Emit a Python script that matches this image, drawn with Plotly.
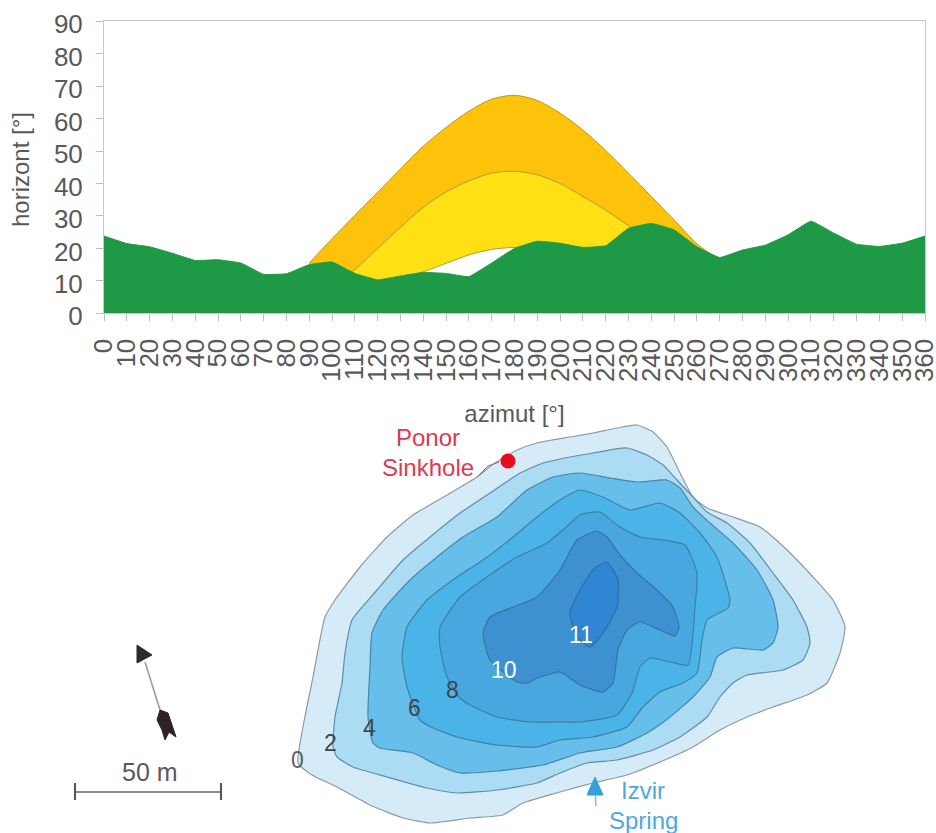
import plotly.graph_objects as go

FONT = "Liberation Sans"
TEXT = "#58595b"

azimuth = list(range(0, 370, 10))
tick_labels = [str(a) for a in azimuth]
horizon = [23.8, 21.5, 20.5, 18.5, 16.3, 16.5, 15.5, 12.0, 12.2, 15.0, 15.8, 12.3, 10.3,
           11.5, 12.6, 12.3, 11.3, 15.5, 20.0, 22.2, 21.6, 20.3, 20.8, 26.2, 27.7, 25.7,
           20.5, 17.2, 19.5, 21.0, 24.2, 28.4, 24.7, 21.3, 20.6, 21.6, 23.8]

summer_az = [90, 100, 110, 120, 130, 140, 150, 160, 170, 180, 190, 200, 210, 220, 230, 240, 250, 260, 267]
summer_alt = [15.5, 23.0, 30.2, 37.3, 44.5, 51.5, 57.3, 62.3, 66.0, 67.2, 65.6, 61.7, 56.5, 50.2, 43.2, 36.0, 28.8, 21.4, 17.5]
equinox_az = [90, 100, 110, 120, 130, 140, 150, 160, 170, 180, 190, 200, 210, 220, 230, 240, 250, 260, 267]
equinox_alt = [4.0, 8.5, 13.5, 20.0, 26.5, 32.7, 37.4, 40.8, 43.2, 43.8, 42.7, 40.0, 36.0, 31.8, 27.0, 22.0, 17.0, 12.0, 8.0]
winter_az = [100, 110, 120, 130, 135, 140, 150, 160, 170, 180, 190, 200, 210, 220, 230, 240, 250, 260, 267]
winter_alt = [2.0, 5.0, 8.0, 11.0, 11.8, 12.8, 15.4, 18.0, 19.7, 20.3, 20.0, 19.0, 17.0, 15.0, 12.0, 9.0, 6.0, 4.0, 3.0]

depth_labels = ["0", "2", "4", "6", "8", "10", "11"]
depth_fill = ["#D5EBF8", "#ABDCF3", "#66BEEA", "#4AB3E7", "#48A7DE", "#3E91D1", "#2F86D3"]
depth_line = ["#8C9AA3", "#5F8FA8", "#4A86A6", "#42809F", "#3F7FA3", "#37749F", "#2F6FA3"]

c0_x = [298, 303, 313, 325, 335, 360, 387, 413, 447, 477, 492, 517, 537, 570, 593, 617, 637, 653, 667, 680, 693, 707, 733, 760, 787, 813, 833, 845, 840, 827, 807, 773, 747, 720, 693, 660, 627, 593, 560, 523, 503, 470, 430, 403, 370, 337, 312]
c0_y = [763, 727, 677, 617, 600, 567, 537, 515, 495, 477, 465, 450, 443, 437, 433, 428, 425, 432, 447, 473, 497, 508, 517, 527, 550, 577, 600, 627, 653, 683, 695, 707, 717, 730, 747, 762, 775, 783, 792, 803, 815, 818, 823, 818, 805, 787, 775]
c2_x = [333, 335, 342, 345, 352, 377, 403, 430, 460, 490, 520, 543, 570, 593, 627, 647, 663, 677, 693, 707, 727, 750, 773, 793, 807, 810, 803, 783, 747, 733, 720, 707, 680, 653, 617, 587, 560, 537, 497, 457, 427, 387, 353, 337]
c2_y = [747, 717, 683, 653, 620, 590, 560, 537, 513, 493, 473, 463, 457, 453, 448, 455, 465, 480, 497, 512, 523, 543, 573, 600, 627, 643, 660, 670, 675, 683, 697, 717, 737, 750, 760, 763, 773, 783, 790, 793, 788, 777, 767, 757]
c4_x = [373, 368, 370, 372, 383, 410, 437, 463, 497, 527, 553, 580, 610, 637, 667, 680, 693, 710, 733, 757, 773, 778, 773, 763, 733, 717, 710, 693, 670, 647, 617, 580, 543, 497, 460, 437, 413, 380]
c4_y = [743, 717, 667, 633, 610, 580, 557, 537, 517, 490, 477, 473, 478, 482, 480, 488, 507, 523, 543, 570, 600, 627, 643, 650, 648, 657, 677, 697, 717, 733, 747, 753, 765, 771, 773, 765, 753, 748]
c6_x = [420, 407, 402, 407, 427, 457, 483, 513, 537, 560, 580, 603, 630, 660, 680, 700, 717, 730, 728, 707, 702, 697, 683, 660, 643, 627, 593, 560, 537, 497, 457, 433]
c6_y = [720, 687, 657, 627, 600, 577, 560, 537, 517, 500, 490, 497, 510, 503, 513, 533, 557, 600, 608, 620, 640, 673, 683, 692, 707, 727, 737, 740, 747, 745, 737, 728]
c8_x = [460, 447, 440, 440, 460, 487, 517, 547, 565, 580, 600, 620, 640, 663, 685, 697, 695, 688, 670, 650, 640, 632, 617, 580, 560, 530, 497, 470]
c8_y = [698, 677, 647, 627, 597, 577, 557, 543, 528, 515, 512, 527, 537, 540, 545, 573, 607, 665, 662, 658, 667, 693, 715, 722, 722, 722, 717, 705]
c10_x = [517, 490, 483, 490, 513, 537, 560, 577, 597, 607, 620, 637, 657, 673, 679, 675, 660, 640, 627, 618, 613, 603, 580, 560, 547, 537, 527]
c10_y = [682, 660, 633, 617, 607, 597, 570, 540, 531, 537, 555, 573, 590, 607, 627, 636, 630, 622, 630, 650, 683, 692, 685, 672, 675, 678, 683]
c11_x = [607, 618, 617, 603, 590, 577, 570, 580, 593]
c11_y = [562, 580, 607, 633, 647, 637, 613, 590, 570]
contours_x = [c0_x, c2_x, c4_x, c6_x, c8_x, c10_x, c11_x]
contours_y = [c0_y, c2_y, c4_y, c6_y, c8_y, c10_y, c11_y]

depth_label_x = [297, 330, 369, 414, 452, 504, 581]
depth_label_y = [760, 743, 728, 708, 690, 670, 635]
depth_label_color = ["#5a6168", "#3f464c", "#3f464c", "#3f464c", "#3f464c", "#ffffff", "#ffffff"]

sinkhole_x, sinkhole_y = [508], [461]
leader_x, leader_y = [477, 488, 499], [477, 466, 462]
spring_shaft_x, spring_shaft_y = [596, 595], [806, 790]
spring_head_x, spring_head_y = [595, 603, 587], [777, 795, 795]
north_shaft_x, north_shaft_y = [145, 160], [662, 710]
north_head_x, north_head_y = [137, 152, 137], [645, 655, 663]
north_tail_x = [160, 168, 176, 169, 165, 162, 157]
north_tail_y = [710, 713, 737, 732, 740, 730, 720]
scale_x, scale_y = [75, 221], [792, 792]
scale_tick_y = [783, 800]

fig = go.Figure()
SMOOTH = dict(shape="spline", smoothing=0.8)

def band(xa, ya, xb, yb, color):
    fig.add_trace(go.Scatter(x=xa + xb[::-1], y=ya + yb[::-1], mode="lines", fill="toself",
                             line=dict(color="rgba(0,0,0,0)", width=0, **SMOOTH),
                             fillcolor=color, hoverinfo="skip", showlegend=False))

def curve(x, y):
    fig.add_trace(go.Scatter(x=x, y=y, mode="lines", line=dict(color="#B59A1E", width=1, **SMOOTH),
                             hoverinfo="skip", showlegend=False))

band(summer_az, summer_alt, equinox_az, equinox_alt, "#FDC30B")
band(equinox_az, equinox_alt, winter_az, winter_alt, "#FFE014")
curve(summer_az, summer_alt)
curve(equinox_az, equinox_alt)
curve(winter_az, winter_alt)
fig.add_trace(go.Scatter(x=azimuth, y=horizon, mode="lines",
                         line=dict(color="#1E9A46", width=1, shape="spline", smoothing=0.3),
                         fill="tozeroy", fillcolor="#1E9A46", hoverinfo="skip", showlegend=False))

def m(**kw):
    kw.setdefault("hoverinfo", "skip")
    kw.setdefault("showlegend", False)
    fig.add_trace(go.Scatter(xaxis="x2", yaxis="y2", **kw))

for xs, ys, fc, lc in zip(contours_x, contours_y, depth_fill, depth_line):
    m(x=xs + xs[:1], y=ys + ys[:1], mode="lines", fill="toself", fillcolor=fc,
      line=dict(color=lc, width=1.2, shape="spline", smoothing=0.5))

m(x=leader_x, y=leader_y, mode="lines", line=dict(color="#8a6a6a", width=1))
m(x=sinkhole_x, y=sinkhole_y, mode="markers", marker=dict(color="#E30F1E", size=15))
m(x=spring_shaft_x, y=spring_shaft_y, mode="lines", line=dict(color="#7FBFE3", width=1.5))
m(x=spring_head_x + spring_head_x[:1], y=spring_head_y + spring_head_y[:1], mode="lines",
  fill="toself", fillcolor="#35A0DD", line=dict(color="#35A0DD", width=1))
m(x=north_shaft_x, y=north_shaft_y, mode="lines", line=dict(color="#9a9a9a", width=1.5))
m(x=north_head_x + north_head_x[:1], y=north_head_y + north_head_y[:1], mode="lines",
  fill="toself", fillcolor="#2b2b2d", line=dict(color="#2b2b2d", width=1))
m(x=north_tail_x + north_tail_x[:1], y=north_tail_y + north_tail_y[:1], mode="lines",
  fill="toself", fillcolor="#2e2226", line=dict(color="#2e2226", width=1))
m(x=scale_x, y=scale_y, mode="lines", line=dict(color="#8a8a8a", width=2))
for sx in scale_x:
    m(x=[sx, sx], y=scale_tick_y, mode="lines", line=dict(color="#555555", width=2))

def note(text, x, y, color, size=24):
    fig.add_annotation(xref="x2", yref="y2", x=x, y=y, text=text, showarrow=False,
                       font=dict(family=FONT, size=size, color=color))

for t, x, y, c in zip(depth_labels, depth_label_x, depth_label_y, depth_label_color):
    note(t, x, y, c, 23)
note("Ponor", 428, 438, "#DC3A50")
note("Sinkhole", 428, 468, "#DC3A50")
note("Izvir", 643, 790, "#4FA8DC")
note("Spring", 643, 820, "#4FA8DC")
note("50 m", 150, 772, TEXT, 25)

W, H = 936, 833
MAP_TOP = 395
fig.add_annotation(xref="paper", yref="paper", x=20 / W, y=1 - 170 / H, text="horizont [°]",
                   xanchor="center", yanchor="middle",
                   textangle=-90, showarrow=False, font=dict(family=FONT, size=24, color=TEXT))
fig.update_layout(
    width=W, height=H, autosize=False,
    margin=dict(l=0, r=0, t=0, b=0),
    paper_bgcolor="white", plot_bgcolor="rgba(0,0,0,0)",
    showlegend=False,
    font=dict(family=FONT, color=TEXT),
    xaxis=dict(domain=[104 / W, 925 / W], anchor="y", range=[0, 360],
               tickmode="array", tickvals=azimuth, ticktext=tick_labels, tickangle=-90,
               tickfont=dict(size=26, color=TEXT), ticks="outside", ticklen=7, tickcolor="#bdbdbd",
               ticklabelstandoff=7, ticklabeloverflow="allow", showgrid=False, zeroline=False,
               showline=True, linecolor="#c9c9c9", mirror=True, automargin=False,
               title=dict(text="azimut [°]", font=dict(size=24, color=TEXT), standoff=24)),
    yaxis=dict(domain=[1 - 313.3 / H, 1 - 21.3 / H], anchor="x", range=[0, 90],
               tickmode="array", tickvals=list(range(0, 100, 10)),
               tickfont=dict(size=26, color=TEXT), ticks="outside", ticklen=7, tickcolor="#bdbdbd",
               ticklabelstandoff=8, ticklabelshift=3, showgrid=False, zeroline=False,
               showline=True, linecolor="#c9c9c9", mirror=True, automargin=False),
    xaxis2=dict(domain=[0, 1], anchor="y2", range=[0, W], visible=False, fixedrange=True),
    yaxis2=dict(domain=[0, 1 - MAP_TOP / H], anchor="x2", range=[H, MAP_TOP], visible=False, fixedrange=True),
)

fig.write_html("out.html", config={"displayModeBar": False},
               post_script="document.body.style.margin='0';")
